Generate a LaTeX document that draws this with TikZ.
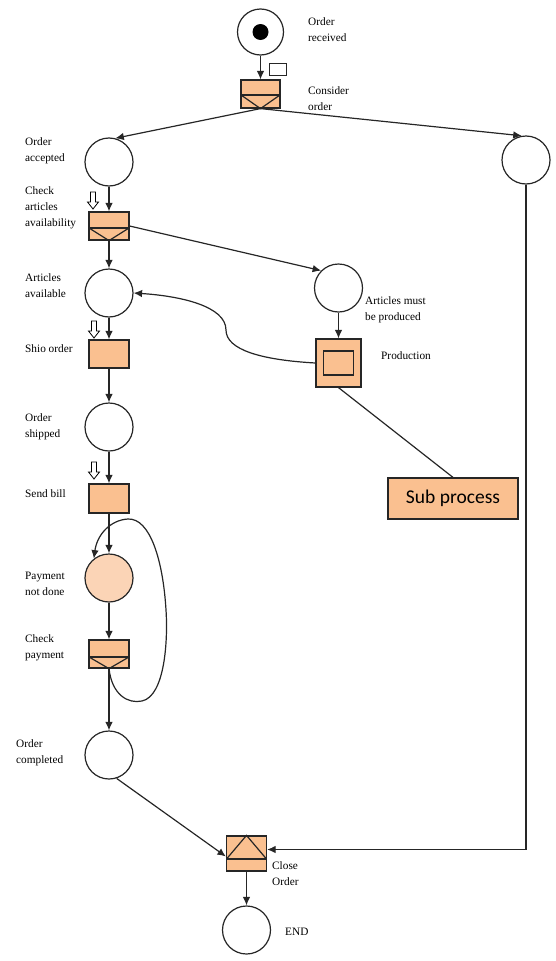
\documentclass[tikz,border=0pt]{standalone}
\usepackage{fontspec}
\setmainfont{Liberation Serif}
\newfontfamily\boxfont{Carlito}
\usetikzlibrary{arrows.meta}
\definecolor{transfill}{RGB}{250,192,144}
\definecolor{placefill}{RGB}{251,212,182}
\tikzset{
  base/.style={line width=1.2pt, draw=black!85},
  place/.style={base, circle, minimum size=48pt, inner sep=0pt, fill=white},
  trans/.style={base, rectangle, fill=transfill, minimum width=40pt, minimum height=28pt, inner sep=0pt},
  lbl/.style={anchor=west, inner sep=0pt, align=left, font=\fontsize{11.3}{16}\selectfont},
  arc/.style={base, -{Latex[length=8.5pt,width=7.5pt]}},
  plain/.style={base},
  trigger/.pic={\draw[line width=0.8pt, fill=white] (-2.5,0) -- (2.5,0) -- (2.5,10) -- (5.5,10) -- (0,17) -- (-5.5,10) -- (-2.5,10) -- cycle;}
}
\begin{document}
\begin{tikzpicture}[x=1pt,y=-1pt]
\useasboundingbox (0,0) rectangle (556,961);

% places
\node[place, minimum size=46pt] (start) at (260.5,32) {};
\fill[black] (start.center) circle (8);
\node[place] (accepted)  at (109,162) {};
\node[place] (cancel)    at (526,160) {};
\node[place] (available) at (109,293) {};
\node[place] (mustprod)  at (338.5,288) {};
\node[place] (shipped)   at (109,427) {};
\node[place, fill=placefill] (pay) at (109,578) {};
\node[place] (completed) at (109,755) {};
\node[place] (finish)    at (246.5,930) {};

% transitions
\node[trans, minimum width=39pt] (consider) at (260.5,94) {};
\node[trans] (check)    at (109,226) {};
\node[trans] (ship)     at (109,354) {};
\node[trans, minimum height=29pt] (bill) at (109,498.5) {};
\node[trans] (checkpay) at (109,654) {};
\node[trans, minimum height=35pt] (close) at (246.5,853.5) {};
\node[trans, minimum width=45pt, minimum height=48pt] (prod) at (338.5,363) {};
\node[base, rectangle, minimum width=30pt, minimum height=24pt, inner sep=0pt] (prodinner) at (prod.center) {};

% split / join markers inside transitions
\draw[plain] (241,95) -- (280,95);
\draw[plain] (241,95) -- (consider.south) -- (280,95);
\draw[plain] (89,228) -- (129,228);
\draw[plain] (89,228) -- (check.south) -- (129,228);
\draw[plain] (89,657) -- (129,657);
\draw[plain] (89,657) -- (checkpay.south) -- (129,657);
\draw[plain] (226.5,859) -- (266.5,859);
\draw[plain] (226.5,859) -- (close.north) -- (266.5,859);

% message marker and trigger arrows
\node[base, line width=0.8pt, rectangle, fill=white, minimum width=17pt, minimum height=12pt, inner sep=0pt] (msg) at (277.5,69) {};
\pic at (93,192) {trigger};
\pic at (94,321) {trigger};
\pic at (94,462) {trigger};

% sub process box
\node[base, rectangle, fill=transfill, minimum width=130pt, minimum height=41pt, inner sep=0pt,
      font=\boxfont\fontsize{19.5}{22}\selectfont] (sub) at (453,498.5) {Sub process};

% connectors
\draw[arc] (start.south) -- (consider.north);
\draw[arc] (consider.south) -- (accepted.75);
\draw[arc] (consider.south) -- (cancel.100);
\draw[arc] (cancel.south) |- ([yshift=4pt]close.east);
\draw[arc] (accepted.south) -- (check.north);
\draw[arc] (check.east) -- (mustprod.135);
\draw[arc] (check.south) -- (available.north);
\draw[arc] (available.south) -- (ship.north);
\draw[arc] (mustprod.south) -- (prod.north);
\draw[arc] (prod.west) .. controls (262,360) and (226,350) .. (226,330)
                       .. controls (226,306) and (180,296) .. (available.east);
\draw[plain] (prod.south) -- (sub.north);
\draw[arc] (ship.south) -- (shipped.north);
\draw[arc] (shipped.south) -- (bill.north);
\draw[arc] (bill.south) -- (pay.north);
\draw[arc] (pay.south) -- (checkpay.north);
\draw[arc] (checkpay.south) .. controls (112,695) and (128,704) .. (142,701)
                            .. controls (165,696) and (168,640) .. (166,610)
                            .. controls (163,560) and (150,518) .. (128,519)
                            .. controls (110,520) and (97,535) .. (pay.128);
\draw[arc] (checkpay.south) -- (completed.north);
\draw[arc] (completed.-72) -- ([yshift=-3pt]close.west);
\draw[arc] (close.south) -- (finish.north);

% labels
\node[lbl] (l1)  at (308,30)  {Order\\received};
\node[lbl] (l2)  at (308,99)  {Consider\\order};
\node[lbl] (l3)  at (25,151)  {Order\\accepted};
\node[lbl] (l4)  at (25,208)  {Check\\articles\\availability};
\node[lbl] (l5)  at (25,286)  {Articles\\available};
\node[lbl] (l6)  at (25,349)  {Shio order};
\node[lbl] (l7)  at (25,427)  {Order\\shipped};
\node[lbl] (l8)  at (25,494)  {Send bill};
\node[lbl] (l9)  at (25,584)  {Payment\\not done};
\node[lbl] (l10) at (25,648)  {Check\\payment};
\node[lbl] (l11) at (16,753)  {Order\\completed};
\node[lbl] (l12) at (365,310) {Articles must\\be produced};
\node[lbl] (l13) at (381,356) {Production};
\node[lbl] (l14) at (272,874) {Close\\Order};
\node[lbl] (l15) at (285,932) {END};
\end{tikzpicture}
\end{document}
